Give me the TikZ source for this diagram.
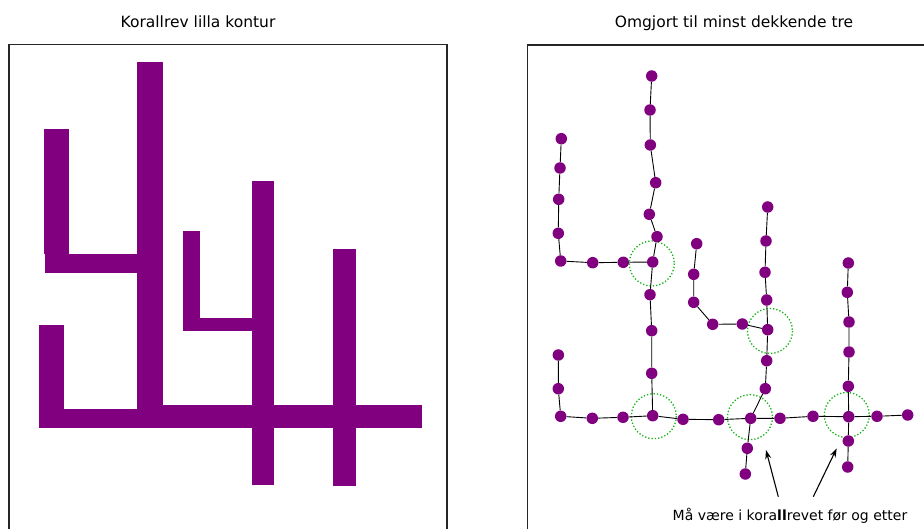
\documentclass[tikz,border=0pt]{standalone}
\usepackage{fontspec}
\setmainfont{DejaVu Sans}
\usetikzlibrary{arrows.meta}
\definecolor{lilla}{RGB}{128,0,128}
\definecolor{grn}{RGB}{20,180,20}
\tikzset{
  pnode/.style={circle,fill=lilla,draw=none,inner sep=0pt,minimum size=11.5pt},
  edge/.style={draw=black,line width=0.9pt},
  ring/.style={draw=grn,dotted,line width=1.3pt},
  reef/.style={fill=lilla,draw=none},
  frame/.style={draw=black!85,line width=1.1pt},
  title/.style={anchor=base,inner sep=0pt,font=\fontsize{15.5}{18}\selectfont},
  note/.style={anchor=base,inner sep=0pt,font=\fontsize{14}{17}\selectfont},
  pointer/.style={draw=black,line width=1.1pt,-{Stealth[length=9pt,width=6pt]}}
}
\begin{document}
\begin{tikzpicture}[x=1pt,y=-1pt]
\useasboundingbox (0,0) rectangle (924,529);
\clip (0,0) rectangle (924,529);
\fill[white] (0,0) rectangle (924,529);
% titles
\node[title] (t1) at (198,27.5) {Korallrev lilla kontur};
\node[title] (t2) at (734,27.5) {Omgjort til minst dekkende tre};
% frames
\draw[frame] (9,560) -- (9,44.5) -- (447,44.5) -- (447,560);
\draw[frame] (527.5,560) -- (527.5,45) -- (940,45);
% left reef
\fill[reef] (44,129) rectangle (69,254);
\fill[reef] (45,254) rectangle (137,273);
\fill[reef] (137,62) rectangle (163,428);
\fill[reef] (39,325) rectangle (64,428);
\fill[reef] (39,409) rectangle (137,428);
\fill[reef] (163,405) rectangle (422,428);
\fill[reef] (183,231) rectangle (200,331);
\fill[reef] (200,318) rectangle (252,331);
\fill[reef] (252,181) rectangle (274,485);
\fill[reef] (333,249) rectangle (355.5,486);
% circles
\draw[ring] (651.8,263.5) circle (22.5);
\draw[ring] (770,331) circle (22.5);
\draw[ring] (653.8,416.2) circle (22.5);
\draw[ring] (750,417.2) circle (22.5);
\draw[ring] (846.8,415) circle (22.5);
% nodes
\foreach \n/\x/\y in {a1/651.7/76, a2/650/110, a3/650.3/145, a4/655.7/182.7, a5/649.3/214.3, a6/657/236.7, a7/652.7/262,
 b1/561.3/138.7, b2/560/168, b3/558.7/199.3, b4/558.3/233.3, b5/560.7/261, b6/592.7/262.7, b7/623.3/262.3,
 g1/650/294.7, g2/651.7/330.7, g3/651.7/373.3, f6/652.7/415.7,
 c1/696.7/243.7, c2/693.7/274.3, c3/693.7/302.3, c4/712.7/324.3, c5/742.3/324, c6/767.7/329.7,
 d1/767.7/207, d2/766/241, d3/765/272.3, d4/766.7/300, d6/766.7/360.7, d7/765.3/388.7, d8/750.7/418.3, d9/747.3/448.3, d10/745.3/474,
 e1/848.3/263, e2/847.3/292.3, e3/849/322, e4/849/352, e5/848.3/386.3, e6/848.7/416.7, e7/848.3/441, e8/847.7/467,
 f1/558.3/355, f2/558.3/388.7, f3/560.7/416.3, f4/592.3/418.3, f5/623/417.3, f7/683/419.3, f8/718.7/419.7, f10/780/418.3, f11/813/416.3, f13/877/416.3, f14/907.7/415}
  {\node[pnode] (\n) at (\x,\y) {};}
% edges
\draw[edge] (a1)--(a2)--(a3)--(a4)--(a5)--(a6)--(a7);
\draw[edge] (b1)--(b2)--(b3)--(b4)--(b5)--(b6)--(b7)--(a7);
\draw[edge] (a7)--(g1)--(g2)--(g3)--(f6);
\draw[edge] (f1)--(f2)--(f3)--(f4)--(f5)--(f6)--(f7)--(f8)--(d8)--(f10)--(f11)--(e6)--(f13)--(f14);
\draw[edge] (c1)--(c2)--(c3)--(c4)--(c5)--(c6);
\draw[edge] (d1)--(d2)--(d3)--(d4)--(c6)--(d6)--(d7)--(d8)--(d9)--(d10);
\draw[edge] (e1)--(e2)--(e3)--(e4)--(e5)--(e6)--(e7)--(e8);
% note and pointers
\node[note] (lbl) at (790,520.5) {Må være i kora\textbf{ll}revet før og etter};
\coordinate (p1s) at (778.3,496.7);
\coordinate (p1e) at (766,450);
\coordinate (p2s) at (813.3,496.7);
\coordinate (p2e) at (836.7,448.3);
\draw[pointer] (p1s) -- (p1e);
\draw[pointer] (p2s) -- (p2e);
\end{tikzpicture}
\end{document}
